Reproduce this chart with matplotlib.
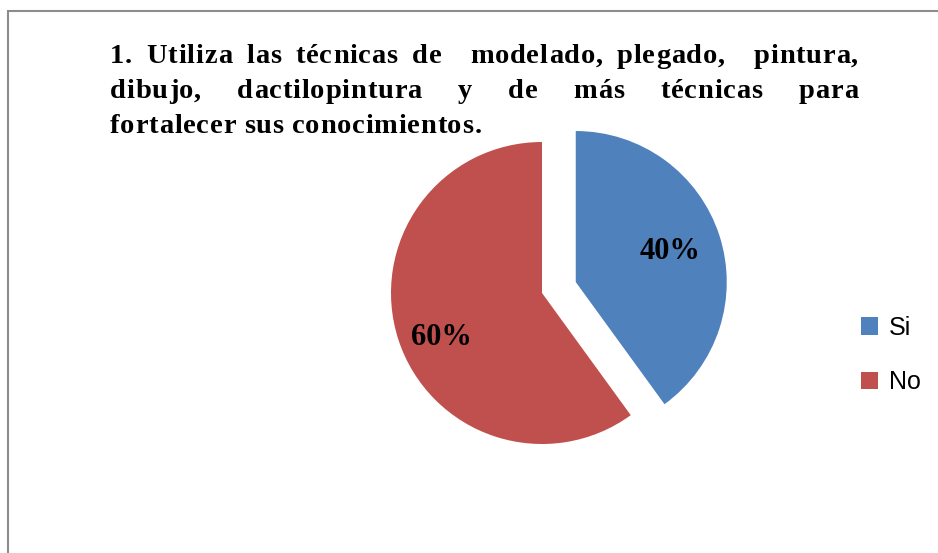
import math
import matplotlib
matplotlib.use("Agg")
import matplotlib.pyplot as plt
from matplotlib.patches import Rectangle
from matplotlib.font_manager import FontProperties

categories = ["Si", "No"]
values = [40, 60]
colors = ["#4F81BD", "#C0504D"]
title_lines = [
    "1. Utiliza las técnicas de  modelado, plegado,  pintura,",
    "dibujo, dactilopintura y de más técnicas para",
    "fortalecer sus conocimientos.",
]

W, H = 938, 553
fig = plt.figure(figsize=(W / 100, H / 100), dpi=100)

# outer chart border (top and left visible, extends beyond image)
fig.patches.append(Rectangle((8 / W, -0.1), 1.2, (H - 11) / H + 0.1,
                             transform=fig.transFigure, fill=False,
                             edgecolor="#8c8c8c", linewidth=1.5))

# pie axes: centre (542, 293), radius 151 px
cx, cy, r = 542, 293, 151
ax = fig.add_axes([(cx - r) / W, (H - cy - r) / H, 2 * r / W, 2 * r / H])
explode = [0.235, 0]
wedges, texts, autotexts = ax.pie(
    values, colors=colors, startangle=90, counterclock=False,
    explode=explode, autopct="%1.0f%%", pctdistance=0.68,
    textprops=dict(family="Liberation Serif", fontweight="bold",
                   fontsize=22, color="black"),
    wedgeprops=dict(linewidth=0))
# label placement (distance from centre, angle shift in degrees)
lab_dist = [0.66, 0.73]
lab_shift = [0, 6]
for w, t, d, s in zip(wedges, autotexts, lab_dist, lab_shift):
    mid = math.radians((w.theta1 + w.theta2) / 2)
    ox, oy = w.center
    a = mid + math.radians(s)
    t.set_position((ox + d * math.cos(a), oy + d * math.sin(a)))
ax.set_xlim(-1, 1)
ax.set_ylim(-1, 1)
ax.set_aspect("equal")
ax.axis("off")
for w in wedges:
    w.set_clip_on(False)

leg = fig.legend(wedges, categories, loc="center left",
                 bbox_to_anchor=(861 / W, 1 - 355 / H),
                 frameon=False, borderpad=0, borderaxespad=0,
                 handlelength=0.68, handleheight=0.68, handletextpad=0.42,
                 labelspacing=1.22,
                 prop=dict(family="Liberation Sans", size=18))

# justified, letter-spaced title
renderer = fig.canvas.get_renderer()
fp = FontProperties(family="Liberation Serif", weight="bold", size=20.5)
spacing = 0.8  # px between letters


def cw(s):
    return renderer.get_text_width_height_descent(s, fp, ismath=False)[0]


space_w = cw("a a") - cw("aa")


def word_width(w):
    return sum(cw(c) for c in w) + spacing * (len(w) - 1)


def draw_word(w, x, ys):
    for c in w:
        fig.text(x / W, ys, c, ha="left", va="baseline", fontproperties=fp)
        x += cw(c) + spacing


x0, x1 = 110, 858
baselines = [63, 98, 133]
for i, line in enumerate(title_lines):
    words = line.split(" ")
    ys = 1 - baselines[i] / H
    widths = [word_width(w) if w else 0 for w in words]
    if i == len(title_lines) - 1:
        gap = space_w + spacing
    else:
        gap = (x1 - x0 - sum(widths)) / (len(words) - 1)
    x = x0
    for w, wdt in zip(words, widths):
        draw_word(w, x, ys)
        x += wdt + gap

fig.savefig("out.png", dpi=100)
